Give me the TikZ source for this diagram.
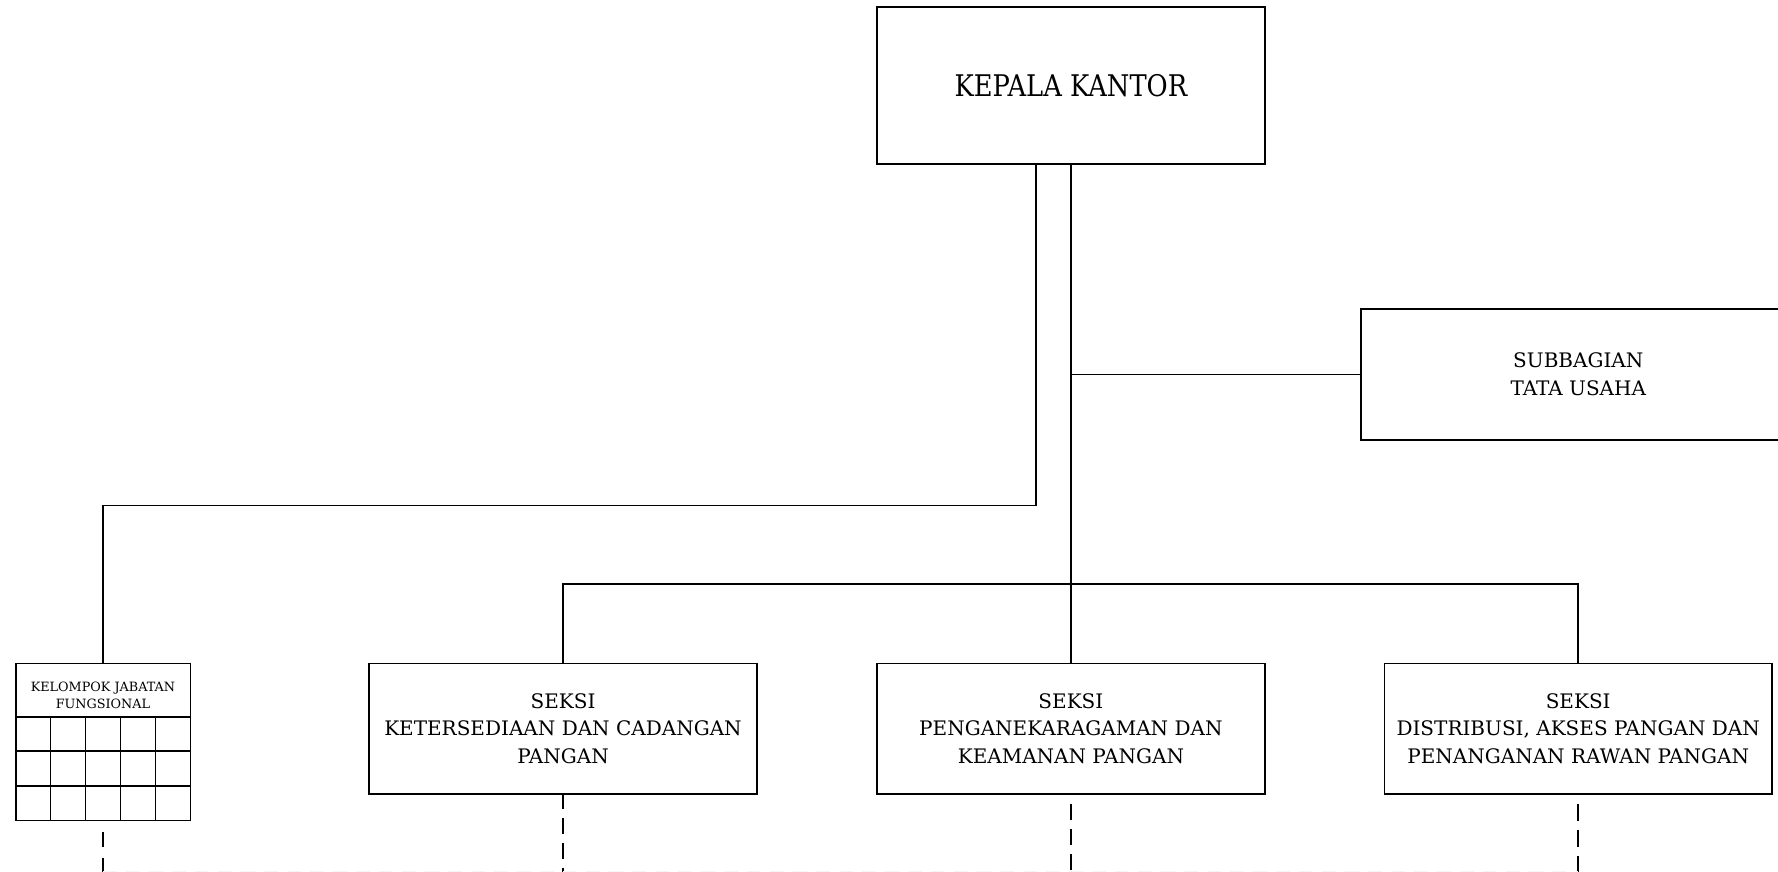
\documentclass[tikz,border=0pt]{standalone}
\usepackage{fontspec}
\usepackage{graphicx}
\setmainfont{DejaVu Serif}
\begin{document}
\begin{tikzpicture}[x=1pt,y=-1pt,
  unit/.style={draw, line width=1.6pt, inner sep=0pt, align=center,
    font=\fontsize{20}{27.3}\selectfont},
  seksibox/.style={unit, minimum width=387.6pt, minimum height=130.7pt},
  link/.style={line width=1.5pt},
  sublink/.style={line width=1.5pt, dash pattern=on 16pt off 9pt}]
\useasboundingbox (0,0) rectangle (1778,872);

% head of office
\node[unit, minimum width=387.7pt, minimum height=157pt] (kepala) at (1070.9,85.8)
  {\fontsize{29.8}{30}\selectfont\scalebox{0.865}[1]{KEPALA KANTOR}};

% administration sub-section (runs past the right edge)
\node[unit, minimum width=435pt, minimum height=131pt,
  font=\fontsize{20}{28.3}\selectfont] (subbag) at (1578.3,374.5)
  {SUBBAGIAN\\TATA USAHA};

% sections
\node[seksibox] (seksiA) at (563,728.7) {SEKSI\\KETERSEDIAAN DAN CADANGAN\\PANGAN};
\node[seksibox] (seksiB) at (1070.9,728.7) {SEKSI\\PENGANEKARAGAMAN DAN\\KEAMANAN PANGAN};
\node[seksibox] (seksiC) at (1578.2,728.7) {SEKSI\\DISTRIBUSI, AKSES PANGAN DAN\\PENANGANAN RAWAN PANGAN};

% functional group with its grid of posts
\node[draw, line width=1.6pt, inner sep=0pt, minimum width=174.6pt, minimum height=157pt]
  (kjf) at (103,741.8) {};
\node[align=center, inner sep=0pt, font=\fontsize{12.8}{17}\selectfont]
  (kjftext) at (103,695.8) {KELOMPOK JABATAN\\FUNGSIONAL};
\begin{scope}[line width=1.6pt]
  \draw (15.7,716.7) -- (190.3,716.7);
  \draw (15.7,751) -- (190.3,751);
  \draw (15.7,785.7) -- (190.3,785.7);
  \foreach \cx in {50.6,85.6,120.5,155.4}
    \draw (\cx,716.7) -- (\cx,820.3);
\end{scope}

% reporting lines
\coordinate (bus) at (1070.9,584);
\coordinate (tuJoin) at (1070.9,374.5);
\coordinate (kjfDrop) at ([xshift=-35pt]kepala.south);
\coordinate (kjfBend) at (103,505.3);
\coordinate (floor) at (0,874);
\coordinate (floorline) at (0,871.6);

\draw[link] (kepala.south) -- (seksiB.north);
\draw[link] (seksiA.north) |- (bus) -| (seksiC.north);
\draw[link] (tuJoin) -- (subbag.west);
\draw[link] (kjfDrop) -- (kjfDrop |- kjfBend) -- (kjfBend) -- (kjf.north);

% lines to lower units
\draw[sublink, dash phase=2pt] (seksiA.south) -- (seksiA.south |- floor);
\draw[sublink, dash phase=16pt] (seksiB.south) -- (seksiB.south |- floor);
\draw[sublink, dash pattern=on 16.5pt off 9.5pt, dash phase=16.5pt] (seksiC.south) -- (seksiC.south |- floor);
\draw[sublink, dash pattern=on 15pt off 11pt, dash phase=15pt] (kjf.south) -- (kjf.south |- floor);
\draw[line width=1pt, black!4, dash pattern=on 14pt off 9pt]
  (kjf.south |- floorline) -- (seksiC.south |- floorline);
\end{tikzpicture}
\end{document}
